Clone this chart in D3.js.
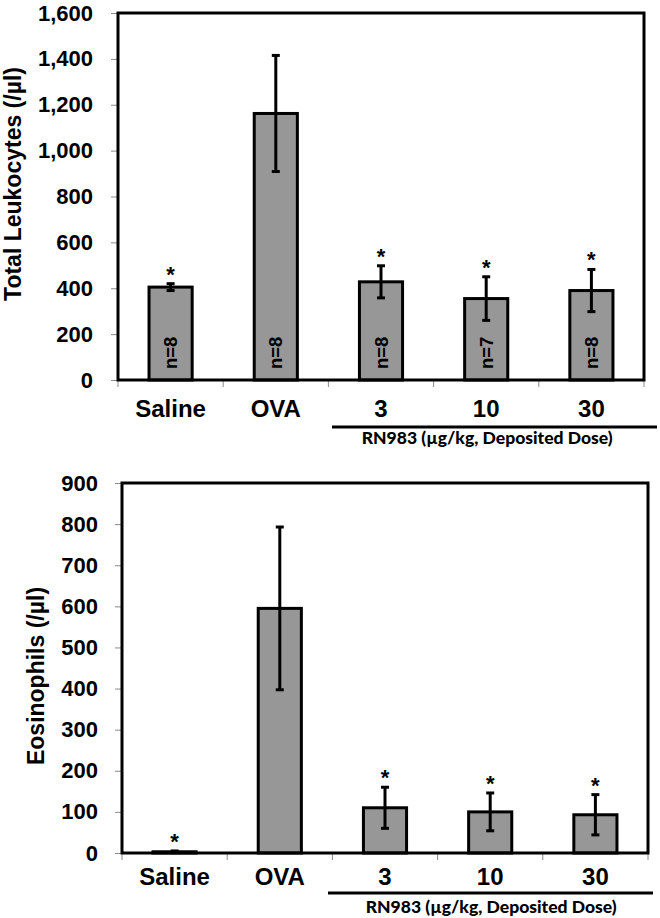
<!DOCTYPE html>
<html>
<head>
<meta charset="utf-8">
<script src="https://cdn.jsdelivr.net/npm/d3@7"></script>
<style>
  html, body { margin: 0; padding: 0; background: #fff; }
  svg { display: block; }
</style>
</head>
<body>
<svg id="chart" width="660" height="918"></svg>
<script>
// ---------- data ----------
const categories = ["Saline", "OVA", "3", "10", "30"];
const leukMean = [405, 1162, 428, 355, 390];
const leukErr  = [15, 253, 70, 95, 92];
const leukN    = ["n=8", "n=8", "n=8", "n=7", "n=8"];
const leukSig  = [true, false, true, true, true];
const leukTicks = [0, 200, 400, 600, 800, 1000, 1200, 1400, 1600];

const eosMean = [3, 595, 110, 100, 93];
const eosErr  = [2, 198, 50, 46, 49];
const eosSig  = [true, false, true, true, true];
const eosTicks = [0, 100, 200, 300, 400, 500, 600, 700, 800, 900];

const leukTitle = "Total Leukocytes (/\u00b5l)";
const eosTitle = "Eosinophils (/\u00b5l)";
const doseLabel = "RN983 (\u00b5g/kg, Deposited Dose)";
const doseCats = ["3", "10", "30"];

// ---------- drawing ----------
const svg = d3.select("#chart");
const FONT = "'Liberation Sans', Arial, sans-serif";

function panel(cfg) {
  const g = svg.append("g");
  const x = d3.scaleBand().domain(categories)
    .range([cfg.left, cfg.right]).paddingInner(0.59).paddingOuter(0.295);
  const y = d3.scaleLinear().domain([0, cfg.max]).range([cfg.bottom, cfg.top]);

  // y axis ticks + labels
  const ax = g.append("g")
    .attr("transform", `translate(${cfg.left},0)`)
    .call(d3.axisLeft(y).tickValues(cfg.ticks).tickFormat(d3.format(","))
      .tickSize(7).tickPadding(cfg.tickPad));
  ax.select(".domain").remove();
  ax.selectAll(".tick line").attr("stroke", "#8a8a8a").attr("stroke-width", 1);
  ax.selectAll(".tick text")
    .attr("font-family", FONT).attr("font-weight", "bold")
    .attr("font-size", 22).attr("fill", "#000");

  // x category boundary ticks
  const bounds = categories.map(c => x(c) + x.bandwidth() / 2 - x.step() / 2);
  bounds.push(bounds[bounds.length - 1] + x.step());
  g.selectAll(".xtick").data(bounds).enter().append("line")
    .attr("x1", d => d).attr("x2", d => d)
    .attr("y1", cfg.bottom).attr("y2", cfg.bottom + 7)
    .attr("stroke", "#8a8a8a").attr("stroke-width", 1);

  const rows = categories.map((c, i) => ({
    c, v: cfg.mean[i], e: cfg.err[i], n: cfg.n ? cfg.n[i] : null, sig: cfg.sig[i]
  }));

  // bars
  g.selectAll(".bar").data(rows).enter().append("rect")
    .attr("x", d => x(d.c))
    .attr("y", d => y(d.v))
    .attr("width", x.bandwidth())
    .attr("height", d => y(0) - y(d.v))
    .attr("fill", "#979797")
    .attr("stroke", "#000").attr("stroke-width", 3);

  // n labels
  if (cfg.n) {
    g.selectAll(".nlab").data(rows).enter().append("text")
      .attr("transform", d => `translate(${x(d.c) + x.bandwidth() / 2 + 6.5},${cfg.bottom - 11}) rotate(-90)`)
      .attr("text-anchor", "start")
      .attr("font-family", FONT).attr("font-weight", "bold")
      .attr("font-size", 18.5).attr("fill", "#000")
      .text(d => d.n);
  }

  // error bars
  const eb = g.selectAll(".eb").data(rows).enter().append("g");
  eb.append("line")
    .attr("x1", d => x(d.c) + x.bandwidth() / 2).attr("x2", d => x(d.c) + x.bandwidth() / 2)
    .attr("y1", d => y(d.v - d.e)).attr("y2", d => y(d.v + d.e))
    .attr("stroke", "#000").attr("stroke-width", 3);
  [1, -1].forEach(s => {
    eb.append("line")
      .attr("x1", d => x(d.c) + x.bandwidth() / 2 - 4).attr("x2", d => x(d.c) + x.bandwidth() / 2 + 4)
      .attr("y1", d => y(d.v + s * d.e)).attr("y2", d => y(d.v + s * d.e))
      .attr("stroke", "#000").attr("stroke-width", 3);
  });

  // significance stars
  g.selectAll(".star").data(rows.filter(d => d.sig)).enter().append("text")
    .attr("x", d => x(d.c) + x.bandwidth() / 2)
    .attr("y", d => y(d.v + d.e) - 2)
    .attr("text-anchor", "middle")
    .attr("font-family", FONT).attr("font-weight", "bold")
    .attr("font-size", 22).attr("fill", "#000")
    .text("*");

  // frame
  g.append("rect")
    .attr("x", cfg.left).attr("y", cfg.top)
    .attr("width", cfg.right - cfg.left).attr("height", cfg.bottom - cfg.top)
    .attr("fill", "none").attr("stroke", "#000").attr("stroke-width", 3);

  // category labels
  g.selectAll(".xlab").data(categories).enter().append("text")
    .attr("x", d => x(d) + x.bandwidth() / 2)
    .attr("y", cfg.bottom + cfg.labOff)
    .attr("text-anchor", "middle")
    .attr("font-family", FONT).attr("font-weight", "bold")
    .attr("font-size", 24).attr("fill", "#000")
    .text(d => d);

  // dose bracket
  g.append("line")
    .attr("x1", cfg.lineX1).attr("x2", cfg.lineX2)
    .attr("y1", cfg.bottom + cfg.lineOff).attr("y2", cfg.bottom + cfg.lineOff)
    .attr("stroke", "#000").attr("stroke-width", 3);
  const dc = doseCats.map(c => x(c) + x.bandwidth() / 2);
  g.append("text")
    .attr("x", (dc[0] + dc[dc.length - 1]) / 2 + 1)
    .attr("y", cfg.bottom + cfg.doseOff)
    .attr("text-anchor", "middle")
    .attr("font-family", "Lato, 'Open Sans', sans-serif").attr("font-weight", "900")
    .attr("font-size", 17).attr("fill", "#000")
    .attr("textLength", 251).attr("lengthAdjust", "spacingAndGlyphs")
    .text(doseLabel);

  // y title
  g.append("text")
    .attr("transform", `translate(${cfg.titleX},${cfg.titleY}) rotate(-90)`)
    .attr("text-anchor", "middle")
    .attr("font-family", FONT).attr("font-weight", "bold")
    .attr("font-size", 23).attr("fill", "#000")
    .text(cfg.title);
}

panel({
  left: 118, right: 644, top: 13, bottom: 380, max: 1600,
  ticks: leukTicks, tickPad: 18,
  mean: leukMean, err: leukErr, n: leukN, sig: leukSig,
  labOff: 37, lineOff: 47, doseOff: 64, lineX1: 332, lineX2: 657,
  title: leukTitle, titleX: 21, titleY: 184
});

panel({
  left: 122, right: 648, top: 483, bottom: 853, max: 900,
  ticks: eosTicks, tickPad: 17,
  mean: eosMean, err: eosErr, n: null, sig: eosSig,
  labOff: 32, lineOff: 40, doseOff: 60, lineX1: 328, lineX2: 653,
  title: eosTitle, titleX: 44, titleY: 676
});
</script>
</body>
</html>
